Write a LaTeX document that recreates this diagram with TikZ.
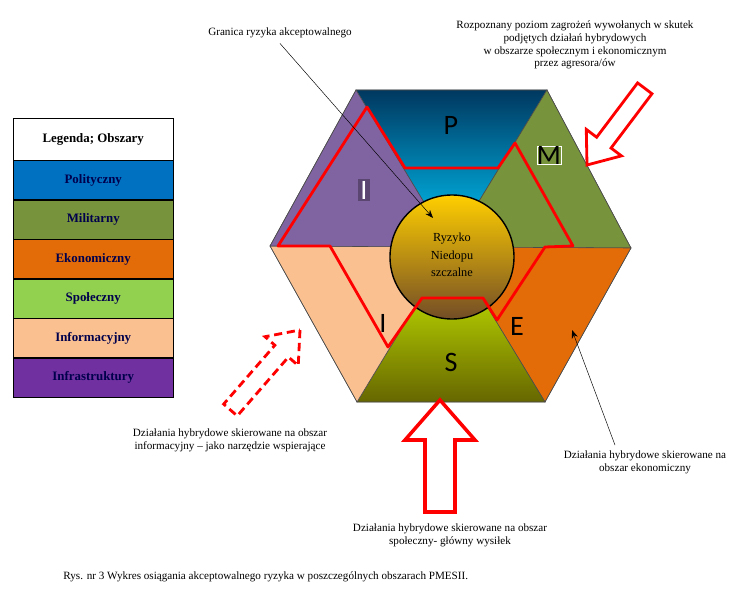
\documentclass[tikz,border=0pt]{standalone}
\usepackage{fontspec}
\setmainfont{Liberation Serif}
\newfontfamily\letterfont{Carlito}
\usetikzlibrary{arrows.meta}
\definecolor{polc}{HTML}{0070C0}
\definecolor{milc}{HTML}{77933C}
\definecolor{ekoc}{HTML}{E36C09}
\definecolor{spoc}{HTML}{92D050}
\definecolor{infc}{HTML}{FAC090}
\definecolor{infrc}{HTML}{7030A0}
\definecolor{purpc}{HTML}{8064A2}
\definecolor{riskred}{HTML}{FF0000}
\tikzset{
  note/.style={font=\fontsize{9.5pt}{11pt}\selectfont,align=center,inner sep=1pt},
  legrow/.style={draw=black,minimum width=4.8cm,minimum height=1.17cm,anchor=north west,
    font=\bfseries\fontsize{11pt}{12pt}\selectfont,text=black!70!blue,inner sep=0pt},
  seg/.style={draw=black!70,line width=0.5pt},
  letter/.style={font=\letterfont\fontsize{24pt}{24pt}\selectfont},
  hollow/.style={draw=riskred,line width=2.4pt,fill=white,line join=miter}
}
% block arrow: tip at origin, pointing along +x
\newcommand{\blockarr}[4]{% length, head half, shaft half, head length
  (0,0) -- (-#4,#2) -- (-#4,#3) -- (-#1,#3) -- (-#1,-#3) -- (-#4,-#3) -- (-#4,-#2) -- cycle}
\begin{document}
\begin{tikzpicture}[x=0.03cm,y=-0.03cm]
  \useasboundingbox (0,0) rectangle (756,593);
  % hexagon
  \coordinate (c) at (451,247);
  \coordinate (ha) at (356,90);  \coordinate (hb) at (547,90);
  \coordinate (hr) at (631,248); \coordinate (hd) at (545,402);
  \coordinate (he) at (357,402); \coordinate (hl) at (270,246);
  \shade[seg,top color=polc!50!black,bottom color=cyan!80!blue] (c) -- (ha) -- (hb) -- cycle;
  \fill[seg,fill=milc] (c) -- (hb) -- (hr) -- cycle;
  \fill[seg,fill=ekoc] (c) -- (hr) -- (hd) -- cycle;
  \shade[seg,top color=yellow!85!green,bottom color=olive!80!black] (c) -- (hd) -- (he) -- cycle;
  \fill[seg,fill=infc] (c) -- (he) -- (hl) -- cycle;
  \fill[seg,fill=purpc] (c) -- (hl) -- (ha) -- cycle;
  \draw[black!70] (ha) -- (hb) -- (hr) -- (hd) -- (he) -- (hl) -- cycle;
  % circle
  \shade[draw=black,line width=1.2pt,top color=orange!20!yellow!90!red,bottom color=brown!60!black]
    (452,257) circle[radius=1.86cm];
  \node[align=center,font=\fontsize{10.5pt}{15pt}\selectfont] (risk) at (452,255)
    {Ryzyko\\Niedopu\\szczalne};
  % letters
  \node[letter] (lp) at (451,125) {P};
  \node[letter,text=white,draw=white,line width=0.6pt,inner sep=0pt] (lm) at (549,155) {\textcolor{black}{M}};
  \node[letter,fill=purpc!70!black,text=white,inner sep=2pt] (li) at (364,190) {I};
  \node[letter] (li2) at (383,323) {I};
  \node[letter] (le) at (517,326) {E};
  \node[letter] (ls) at (451,362) {S};
  % acceptable risk border
  \draw[riskred,line width=2.4pt,line join=round]
    (278,246) -- (367,107) -- (405,168) -- (498,168) -- (515,143) -- (573,246)
    -- (545,247) -- (497,320) -- (483,298) -- (422,298) -- (388,347) -- (330,246) -- cycle;
  % block arrows
  \begin{scope}[shift={(587,165)},rotate=-127]
    \draw[hollow] \blockarr{96}{22}{9}{28};
  \end{scope}
  \begin{scope}[shift={(300,330)},rotate=49]
    \draw[hollow,dashed,dash pattern=on 7pt off 4pt] \blockarr{106}{22}{9}{28};
  \end{scope}
  \begin{scope}[shift={(440,400)},rotate=90]
    \draw[hollow,line width=3pt] \blockarr{112}{35}{15}{40};
  \end{scope}
  % texts
  \node[note] (granica) at (280,33) {Granica ryzyka akceptowalnego};
  \node[note] (rozp) at (575,45) {Rozpoznany poziom zagrożeń wywołanych w skutek\\podjętych działań hybrydowych\\w obszarze społecznym i ekonomicznym\\przez agresora/ów};
  \node[note] (dinf) at (230,440) {Działania hybrydowe skierowane na obszar\\informacyjny – jako narzędzie wspierające};
  \node[note] (deko) at (645,462) {Działania hybrydowe skierowane na\\obszar ekonomiczny};
  \node[note] (dspo) at (450,535) {Działania hybrydowe skierowane na obszar\\społeczny- główny wysiłek};
  \node[note,anchor=west] (rys) at (62,577) {Rys. nr 3 Wykres osiągania akceptowalnego ryzyka w poszczególnych obszarach PMESII.};
  % pointers
  \coordinate (gtip) at (433,218);
  \coordinate (etip) at (572,330);
  \draw[-{Stealth[length=7pt]},thin] (granica.south) ++(0,4) -- (gtip);
  \draw[-{Stealth[length=7pt]},thin] (deko.north) ++(-30,-4) -- (etip);
  % legend
  \node[legrow,fill=white,text=black,minimum height=1.26cm] (lg0) at (13,118) {Legenda; Obszary};
  \node[legrow,fill=polc] (lg1) at (lg0.south west) {Polityczny};
  \node[legrow,fill=milc] (lg2) at (lg1.south west) {Militarny};
  \node[legrow,fill=ekoc] (lg3) at (lg2.south west) {Ekonomiczny};
  \node[legrow,fill=spoc] (lg4) at (lg3.south west) {Społeczny};
  \node[legrow,fill=infc] (lg5) at (lg4.south west) {Informacyjny};
  \node[legrow,fill=infrc] (lg6) at (lg5.south west) {Infrastruktury};
\end{tikzpicture}
\end{document}
